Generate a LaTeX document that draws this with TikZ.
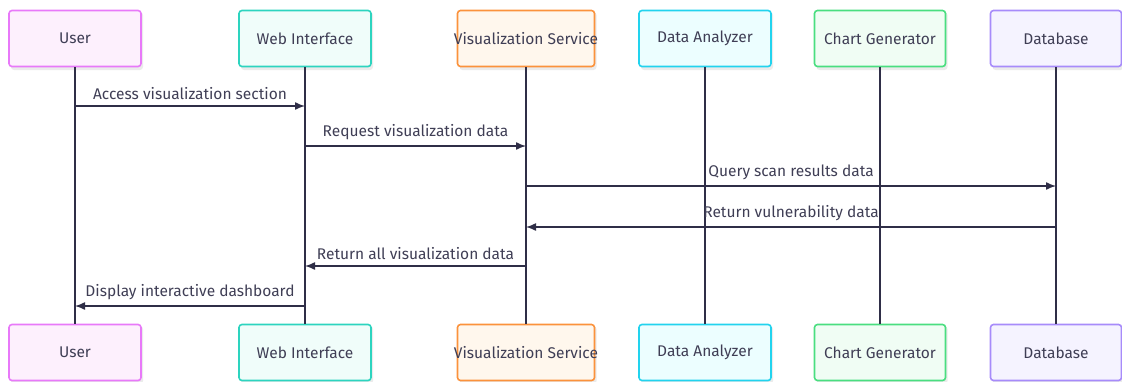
\documentclass[tikz,border=0pt]{standalone}
\usepackage{fontspec}
\setmainfont{Fira Sans}
\usetikzlibrary{arrows.meta,calc,positioning}

\definecolor{ink}{HTML}{2F2E47}
\definecolor{txt}{HTML}{3F3E55}

\tikzset{
  actor/.style={draw, rounded corners=3pt, line width=1.6pt, minimum width=132pt,
    minimum height=56pt, inner sep=0pt, text=txt, font=\fontsize{15.5}{18}\selectfont},
  life/.style={ink, line width=1.4pt},
  msg/.style={ink, line width=1.4pt, -{Latex[length=10pt,width=8pt]}},
  lbl/.style={text=txt, font=\fontsize{15.5}{18}\selectfont, above=2pt}
}

\begin{document}
\begin{tikzpicture}[x=1pt,y=-1pt]
    \useasboundingbox (0,0) rectangle (1122,381);

    % participants, top row and bottom row
    \foreach \nm/\x/\w/\bd/\bg/\txt in {
        user/75/132/E879F9/FDF0FD/User,
        web/305/132/2DD4BF/F0FDFA/Web Interface,
        vis/526/137/FB923C/FFF7ED/Visualization Service,
        ana/705/132/22D3EE/ECFEFF/Data Analyzer,
        chart/880/131/4ADE80/F0FDF4/Chart Generator,
        db/1056/131/A78BFA/F5F3FF/Database}{
      \definecolor{bd}{HTML}{\bd}
      \definecolor{bg}{HTML}{\bg}
      \fill[black!8, rounded corners=3pt] (\x-\w/2+2,12) rectangle ++(\w,58);
      \fill[black!8, rounded corners=3pt] (\x-\w/2+2,326) rectangle ++(\w,58);
      % long names may run past the box edge
      \node[actor, draw=bd, fill=bg, minimum width=\w pt] (\nm T) at (\x,38.5) {\makebox[0pt]{\txt}};
      \node[actor, draw=bd, fill=bg, minimum width=\w pt] (\nm B) at (\x,352.5) {\makebox[0pt]{\txt}};
      \draw[life] (\nm T.south) -- (\nm B.north);
    }

    % message heights
    \foreach \i/\y in {1/106,2/146,3/186,4/227,5/266,6/306}
      \coordinate (m\i) at (0,\y);

    \draw[msg] (userT.south |- m1) -- node[lbl] {Access visualization section} (webT.south |- m1);
    \draw[msg] (webT.south |- m2) -- node[lbl] {Request visualization data} (visT.south |- m2);
    \draw[msg] (visT.south |- m3) -- node[lbl] {Query scan results data} (dbT.south |- m3);
    \draw[msg] (dbT.south |- m4) -- node[lbl] {Return vulnerability data} (visT.south |- m4);
    \draw[msg] (visT.south |- m5) -- node[lbl] {Return all visualization data} (webT.south |- m5);
    \draw[msg] (webT.south |- m6) -- node[lbl] {Display interactive dashboard} (userT.south |- m6);
  \end{tikzpicture}
\end{document}
